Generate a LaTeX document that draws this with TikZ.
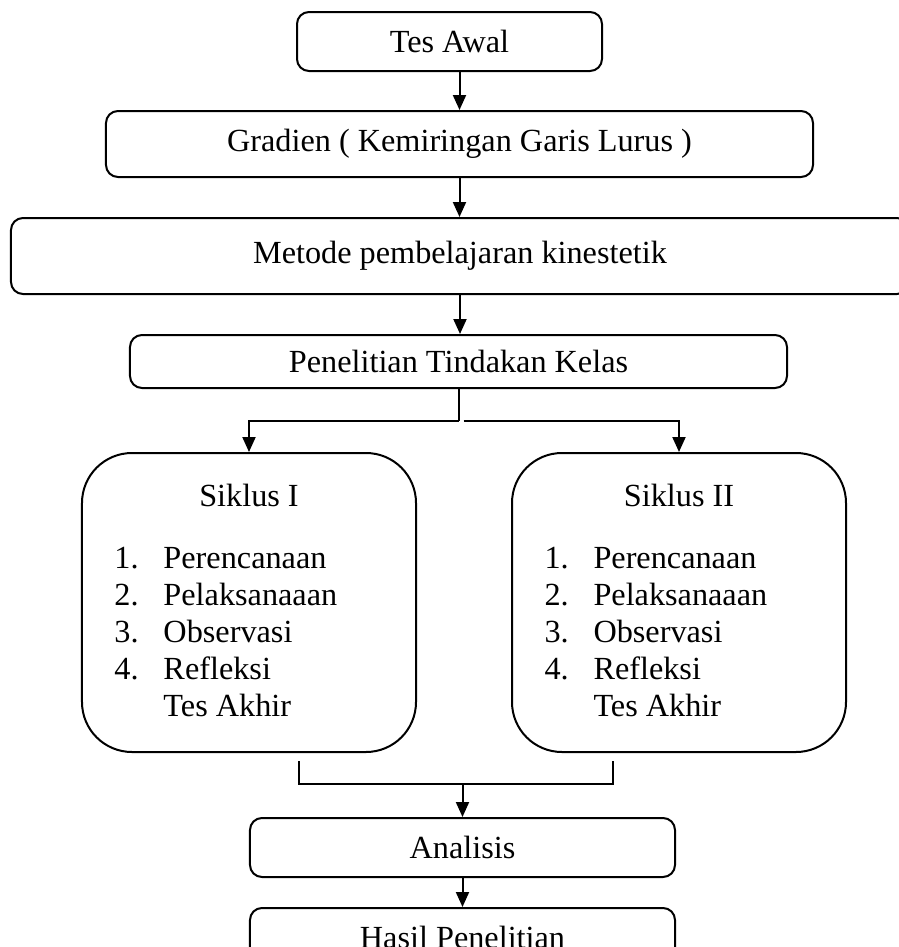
\documentclass[tikz,border=0pt]{standalone}
\usepackage{fontspec}
\setmainfont{Liberation Serif}
\usetikzlibrary{arrows.meta,calc}

\begin{document}
\begin{tikzpicture}[
	x=0.4pt,y=-0.4pt,
	>={Triangle[length=6pt,width=5.2pt]},
	font=\fontsize{12.9pt}{14.8pt}\selectfont,
	stepbox/.style={
		rectangle,draw=black,line width=0.8pt,rounded corners=4.8pt,
		inner sep=0pt,text centered},
	cyclebox/.style={
		rectangle,draw=black,line width=0.8pt,rounded corners=20pt,
		minimum width=133.6pt,minimum height=119.6pt,inner sep=0pt},
	listtext/.style={anchor=base west,inner sep=0pt},
	flow/.style={->,line width=0.8pt},
	link/.style={line width=0.8pt}
	]
	\useasboundingbox (0,0) rectangle (899,947);
	\clip (0,0) rectangle (899,947);

	\node [stepbox, minimum width=122pt, minimum height=23.6pt] (tesAwal) at (449.5,41.5) {Tes Awal};
	\node [stepbox, minimum width=282.8pt, minimum height=26.4pt] (gradien) at (459.5,144) {Gradien ( Kemiringan Garis Lurus )};
	\node [stepbox, minimum width=359.2pt, minimum height=30.4pt] (metode) at (460,256) {Metode pembelajaran kinestetik};
	\node [stepbox, minimum width=262.8pt, minimum height=21.2pt] (ptk) at (458.5,361.5) {Penelitian Tindakan Kelas};
	\node [cyclebox] (siklus1) at (249,602.5) {};
	\node [cyclebox] (siklus2) at (679,602.5) {};
	\node [stepbox, minimum width=170pt, minimum height=23.6pt] (analisis) at (462.5,847.5) {Analisis};
	\node [stepbox, minimum width=170pt, minimum height=23.6pt] (hasil) at (462.5,937.5) {Hasil Penelitian};

	% SIKLUS I
	\node [anchor=base] (judul1) at ($(siklus1.north)+(0,54)$) {Siklus I};
	\foreach \n/\txt in {1/Perencanaan,2/Pelaksanaaan,3/Observasi,4/Refleksi}{
		\node [listtext] (no1\n) at ($(siklus1.north west)+(33,{116+37*(\n-1)})$) {\n.};
		\node [listtext] (isi1\n) at ($(siklus1.north west)+(82,{116+37*(\n-1)})$) {\txt};
	}
	\node [listtext] (akhir1) at ($(siklus1.north west)+(82,264)$) {Tes Akhir};

	% SIKLUS II
	\node [anchor=base] (judul2) at ($(siklus2.north)+(0,54)$) {Siklus II};
	\foreach \n/\txt in {1/Perencanaan,2/Pelaksanaaan,3/Observasi,4/Refleksi}{
		\node [listtext] (no2\n) at ($(siklus2.north west)+(33,{116+37*(\n-1)})$) {\n.};
		\node [listtext] (isi2\n) at ($(siklus2.north west)+(82,{116+37*(\n-1)})$) {\txt};
	}
	\node [listtext] (akhir2) at ($(siklus2.north west)+(82,264)$) {Tes Akhir};

	\draw [flow] (tesAwal.south -| gradien.north) -- (gradien.north);
	\draw [flow] (gradien.south) -- (gradien.south |- metode.north);
	\draw [flow] (metode.south) -- (metode.south |- ptk.north);

	\coordinate (cabang) at ($(ptk.south)+(0,32)$);
	\draw [link] (ptk.south) -- (cabang);
	\draw [flow] (cabang) -| (siklus1.north);
	\draw [flow] ($(cabang)+(5,0)$) -| (siklus2.north);

	\coordinate (gabungKiri) at ($(siklus1.south)+(50,8)$);
	\coordinate (gabungKanan) at ($(siklus2.south)+(-66,8)$);
	\coordinate (gabung) at ($(analisis.north)+(0,-33)$);
	\draw [link] (gabungKiri) |- (gabung) -| (gabungKanan);
	\draw [flow] (gabung) -- (analisis.north);
	\draw [flow] (analisis) -- (hasil);
\end{tikzpicture}
\end{document}
